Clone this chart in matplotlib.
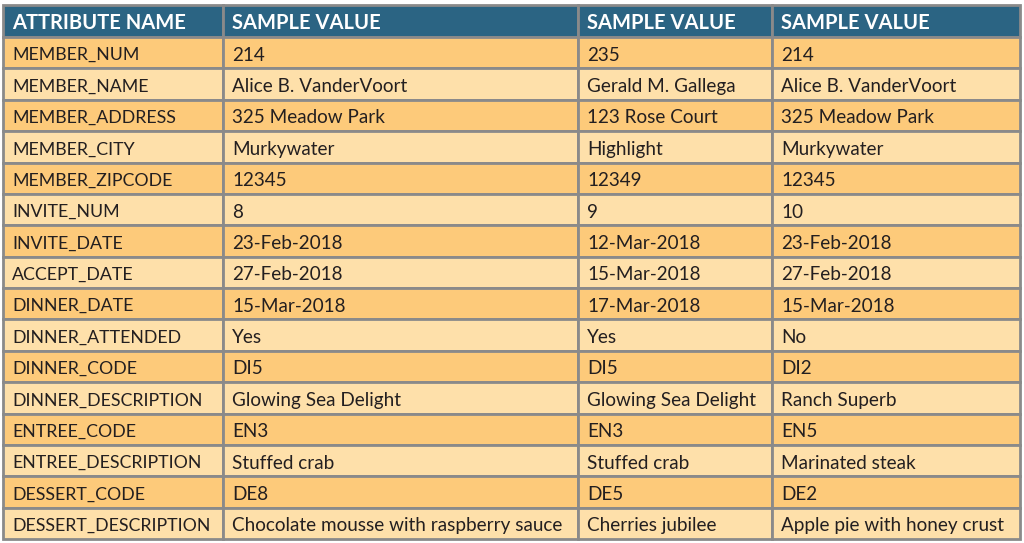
import matplotlib.pyplot as plt
from matplotlib.patches import Rectangle

headers = ['ATTRIBUTE NAME', 'SAMPLE VALUE', 'SAMPLE VALUE', 'SAMPLE VALUE']
attributes = ['MEMBER_NUM', 'MEMBER_NAME', 'MEMBER_ADDRESS', 'MEMBER_CITY',
              'MEMBER_ZIPCODE', 'INVITE_NUM', 'INVITE_DATE', 'ACCEPT_DATE',
              'DINNER_DATE', 'DINNER_ATTENDED', 'DINNER_CODE',
              'DINNER_DESCRIPTION', 'ENTREE_CODE', 'ENTREE_DESCRIPTION',
              'DESSERT_CODE', 'DESSERT_DESCRIPTION']
sample1 = ['214', 'Alice B. VanderVoort', '325 Meadow Park', 'Murkywater',
           '12345', '8', '23-Feb-2018', '27-Feb-2018', '15-Mar-2018', 'Yes',
           'DI5', 'Glowing Sea Delight', 'EN3', 'Stuffed crab', 'DE8',
           'Chocolate mousse with raspberry sauce']
sample2 = ['235', 'Gerald M. Gallega', '123 Rose Court', 'Highlight',
           '12349', '9', '12-Mar-2018', '15-Mar-2018', '17-Mar-2018', 'Yes',
           'DI5', 'Glowing Sea Delight', 'EN3', 'Stuffed crab', 'DE5',
           'Cherries jubilee']
sample3 = ['214', 'Alice B. VanderVoort', '325 Meadow Park', 'Murkywater',
           '12345', '10', '23-Feb-2018', '27-Feb-2018', '15-Mar-2018', 'No',
           'DI2', 'Ranch Superb', 'EN5', 'Marinated steak', 'DE2',
           'Apple pie with honey crust']

columns = [attributes, sample1, sample2, sample3]

# layout in pixels
col_edges = [3, 223, 578, 772, 1020]
col_fs = [12.8, 13.6, 13.6, 13.6]   # attribute names run a bit narrower
top = 5
head_h = 32
row_h = (539 - 37) / len(attributes)

head_col = '#2b6483'
row_cols = ['#fdca7a', '#fee0aa']
line_col = '#8a8a8a'
txt_col = '#231f20'

plt.rcParams['font.family'] = ['Lato', 'DejaVu Sans']

fig = plt.figure(figsize=(10.24, 5.43), dpi=100)
ax = fig.add_axes([0, 0, 1, 1])
ax.set_xlim(0, 1024)
ax.set_ylim(543, 0)
ax.axis('off')

# header
for j, h in enumerate(headers):
    x0, x1 = col_edges[j], col_edges[j + 1]
    ax.add_patch(Rectangle((x0, top), x1 - x0, head_h, facecolor=head_col,
                           edgecolor=line_col, lw=2))
    ax.text(x0 + 9, top + head_h / 2 + 2, h, color='white', fontsize=14.5,
            fontweight='bold', va='center', ha='left')

# body
for i in range(len(attributes)):
    y0 = top + head_h + i * row_h
    for j, col in enumerate(columns):
        x0, x1 = col_edges[j], col_edges[j + 1]
        ax.add_patch(Rectangle((x0, y0), x1 - x0, row_h,
                               facecolor=row_cols[i % 2],
                               edgecolor=line_col, lw=2))
        ax.text(x0 + 9, y0 + row_h / 2 + 2.5, col[i], color=txt_col,
                fontsize=col_fs[j], va='center', ha='left')

fig.savefig('out.png', dpi=100)
